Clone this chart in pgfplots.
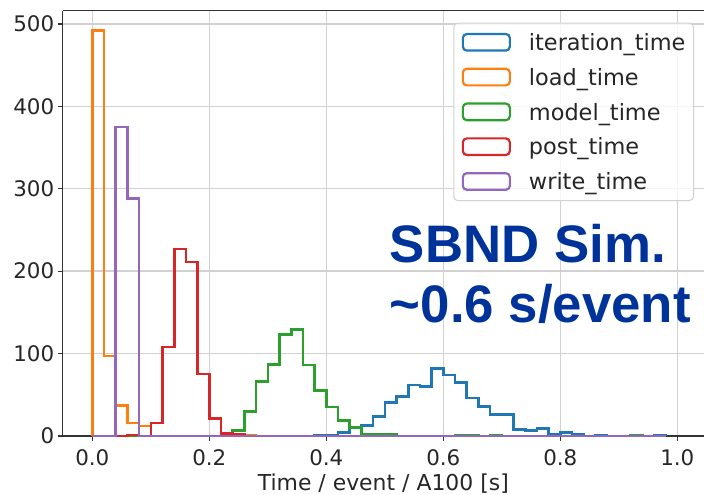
\documentclass[border=0pt]{standalone}
\usepackage{fontspec}
\setmainfont{DejaVu Sans}
\newfontfamily\annfont{Liberation Sans}
\usepackage{pgfplots}
\usepackage{pgfplotstable}
\pgfplotsset{compat=1.18}
\definecolor{c0}{HTML}{1F77B4}
\definecolor{c1}{HTML}{FF7F0E}
\definecolor{c2}{HTML}{2CA02C}
\definecolor{c3}{HTML}{D62728}
\definecolor{c4}{HTML}{9467BD}
\definecolor{navy}{RGB}{0,51,153}
\pgfplotstableread{
x    it  ld   md   pt   wt
0    0   0    0    0    0
0.00 0   492  0    0    0
0.02 0   97   0    0    0
0.04 0   37   0    0    375
0.06 0   16   0    1    288
0.08 0   12   0    0    0
0.10 0   0    0    16   0
0.12 0   0    0    108  0
0.14 0   0    0    227  0
0.16 0   0    0    211  0
0.18 0   0    0    75   0
0.20 0   0    0    21   0
0.22 0   0    0    3    0
0.24 0   0    7    2    0
0.26 0   1    30   0    0
0.28 0   0    66   0    0
0.30 0   0    87   0    0
0.32 0   0    123  0    0
0.34 0   0    129  0    0
0.36 0   0    86   0    0
0.38 1   0    55   0    0
0.40 1   0    35   0    0
0.42 4   0    19   0    0
0.44 11  0    10   0    0
0.46 13  0    2    0    0
0.48 24  0    2    0    0
0.50 41  0    2    0    0
0.52 48  0    0    0    0
0.54 62  0    0    0    0
0.56 60  0    0    0    0
0.58 82  0    0    0    0
0.60 74  0    0    0    0
0.62 65  0    1    0    0
0.64 46  0    1    0    0
0.66 36  0    0    0    0
0.68 26  0    1    0    0
0.70 26  0    0    0    0
0.72 8   0    0    0    0
0.74 7   0    0    0    0
0.76 9   0    0    0    0
0.78 2   0    0    0    0
0.80 4   0    0    0    0
0.82 2   0    0    0    0
0.84 0   0    0    0    0
0.86 1   0    0    0    0
0.88 0   0    0    0    0
0.90 0   0    0    0    0
0.92 1   0    1    0    0
0.94 0   0    0    0    0
0.96 1   0    0    0    0
0.98 0   0    0    0    0
}\histdata
\begin{document}
\begin{tikzpicture}
\useasboundingbox (-62.7bp,-59bp) rectangle (641.3bp,436bp);
\begin{axis}[
  scale only axis, width=641.3bp, height=425.3bp,
  xmin=-0.0506, xmax=1.0456, ymin=0, ymax=516,
  axis x line*=bottom, axis y line*=left,
  axis line style={line width=1.5bp, black!80},
  xtick={0,0.2,0.4,0.6,0.8,1.0},
  ytick={0,100,200,300,400,500},
  xticklabel style={yshift=-4.8bp, /pgf/number format/.cd,fixed,fixed zerofill,precision=1},
  /pgf/number format/assume math mode=true,
  tick label style={font=\fontsize{21.5}{26}\selectfont, black!85},
  tick align=outside, major tick length=5bp,
  tick style={line width=1.3bp, black!80},
  grid=major, major grid style={line width=1.5bp, black!18},
  xlabel={Time / event / A100 [s]},
  every axis x label/.style={at={(axis description cs:0.5,0)}, anchor=base, yshift=-54bp, font=\fontsize{22}{27}\selectfont, black!85},
  const plot,
  every axis plot/.append style={line width=2.6bp},
  clip mode=individual,
  legend image code/.code={\draw[#1, line width=2.2bp] (0bp,-8.3bp) rectangle (47bp,8.3bp);},
  legend cell align=left,
  legend style={at={(0.9844,0.9718)}, anchor=north east, draw=black!18, line width=1bp,
    rounded corners=4bp, fill=white, fill opacity=0.8, text opacity=1,
    font=\fontsize{22.5}{27}\selectfont, text=black!85,
    inner xsep=8bp, inner ysep=5.5bp, column sep=18bp, row sep=7.6bp,
    nodes={inner sep=0bp, text height=21.9bp, text depth=5.3bp}},
]
\addplot[c0] table[x=x,y=it] {\histdata};
\addplot[c1] table[x=x,y=ld] {\histdata};
\addplot[c2] table[x=x,y=md] {\histdata};
\addplot[c3] table[x=x,y=pt] {\histdata};
\addplot[c4] table[x=x,y=wt] {\histdata};
\legend{iteration\_time, load\_time, model\_time, post\_time, write\_time}
\node[anchor=base west, inner sep=0pt, text=navy, font=\annfont\bfseries\fontsize{53}{60}\selectfont] at (rel axis cs:0.510,0.408) {SBND Sim.};
\node[anchor=base west, inner sep=0pt, text=navy, font=\annfont\bfseries\fontsize{53}{60}\selectfont] at (rel axis cs:0.510,0.266) {\textasciitilde0.6 s/event};
\end{axis}
\draw[line width=1.5bp, black!80] (current axis.north west) -- (current axis.north east);
\end{tikzpicture}
\end{document}
